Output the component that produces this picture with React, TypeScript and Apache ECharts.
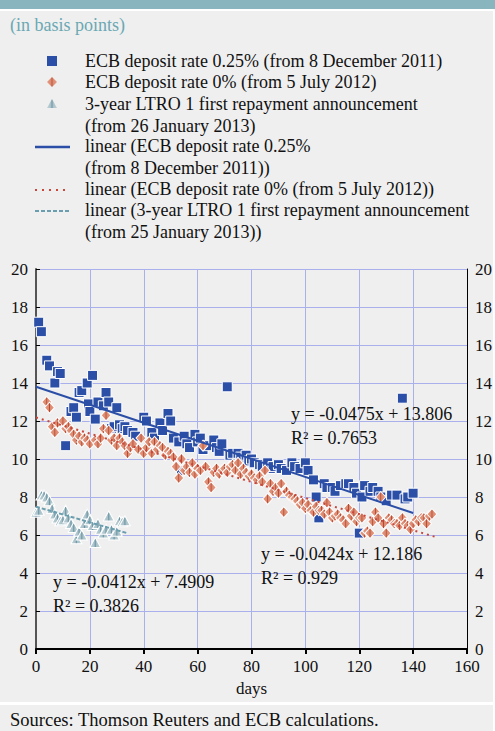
import React, { useEffect, useRef } from "react";
import * as echarts from "echarts";

// ECB deposit rate 0.25% (from 8 December 2011): [day, basis points]
const blueData: [number, number][] = [
  [1, 17.2], [2, 16.7], [4, 15.2], [5, 14.9], [7, 14.0], [8, 14.6], [9, 14.5], [11, 10.7],
  [13, 12.5], [14, 12.7], [15, 12.2], [16, 13.5], [17, 13.6], [19, 14.0], [19.5, 12.9], [20, 12.5],
  [21, 14.4], [22, 12.1], [23, 13.0], [25, 12.8], [26, 13.5], [27, 13.0], [28, 11.6], [29, 11.7],
  [30, 12.7], [31, 11.8], [32, 11.6], [33, 11.7], [34, 11.5], [36, 11.4], [37, 11.2], [40, 12.2],
  [41, 12.0], [43, 11.4], [44, 11.1], [46, 11.9], [47, 11.5], [49, 12.4], [50, 12.0], [51, 11.1],
  [53, 10.9], [54, 9.4], [55, 11.2], [56, 10.8], [57, 10.6], [59, 11.3], [60, 10.9], [61, 11.1],
  [62, 10.5], [64, 10.7], [66, 11.0], [67, 10.6], [68, 10.4], [69, 10.8], [71, 13.8], [72, 10.2],
  [73, 10.3], [75, 10.3], [76, 10.1], [78, 10.2], [79, 9.9], [80, 10.0], [81, 9.8], [83, 9.7],
  [84, 9.6], [86, 9.8], [87, 9.5], [88, 9.6], [90, 9.7], [91, 9.5], [93, 9.4], [95, 9.8],
  [96, 9.6], [98, 9.5], [100, 9.8], [101, 9.4], [103, 8.9], [104, 8.0], [105, 6.9], [107, 8.7],
  [108, 8.5], [110, 8.5], [111, 8.3], [113, 8.6], [115, 8.7], [116, 8.7], [118, 8.5], [119, 8.2],
  [120, 6.1], [121, 8.0], [122, 8.6], [124, 8.3], [125, 8.5], [127, 8.3], [128, 8.0], [130, 7.8],
  [132, 8.1], [134, 8.1], [136, 13.2], [137, 7.9], [138, 8.0], [140, 8.2],
];

// ECB deposit rate 0% (from 5 July 2012)
const redData: [number, number][] = [
  [4, 13.0], [5, 12.7], [6, 11.7], [7, 11.4], [8, 11.9], [10, 12.0], [11, 11.6], [12, 11.7],
  [13, 11.5], [14, 11.3], [15, 11.0], [16, 11.2], [17, 10.9], [18, 11.1], [19, 11.0], [20, 10.8],
  [22, 11.0], [23, 10.8], [24, 11.1], [25, 11.6], [26, 12.3], [27, 11.5], [28, 11.0], [29, 11.1],
  [30, 10.7], [31, 11.1], [32, 10.9], [33, 10.7], [34, 10.3], [35, 10.6], [36, 10.8], [38, 10.5],
  [39, 11.1], [40, 10.3], [41, 10.6], [42, 10.9], [43, 10.3], [44, 10.9], [45, 10.5], [46, 10.7],
  [47, 10.6], [48, 10.2], [49, 10.4], [50, 10.3], [51, 10.1], [52, 9.6], [53, 9.0], [54, 10.0],
  [55, 9.4], [56, 9.6], [57, 9.3], [58, 9.8], [59, 9.2], [60, 9.5], [61, 9.4], [62, 10.7],
  [63, 9.6], [64, 8.8], [65, 8.5], [66, 9.3], [67, 9.5], [68, 9.2], [69, 9.4], [70, 9.5],
  [71, 9.3], [72, 9.6], [73, 9.7], [74, 9.4], [75, 9.8], [76, 9.2], [77, 9.5], [78, 9.3],
  [79, 9.1], [80, 9.2], [81, 9.0], [82, 8.9], [83, 9.1], [84, 8.8], [85, 9.4], [86, 7.9],
  [87, 8.7], [88, 8.3], [89, 8.5], [90, 8.2], [91, 8.7], [92, 7.2], [93, 8.3], [94, 8.1],
  [95, 8.0], [96, 7.9], [97, 7.8], [98, 7.6], [99, 7.7], [100, 7.4], [101, 7.6], [102, 7.3],
  [103, 7.2], [104, 7.5], [105, 7.3], [106, 7.3], [107, 7.1], [108, 7.7], [109, 7.2], [110, 6.9],
  [111, 7.0], [112, 7.1], [113, 6.9], [114, 6.8], [115, 6.6], [116, 7.4], [117, 7.0], [118, 7.2],
  [119, 6.7], [120, 6.9], [121, 6.9], [122, 6.1], [123, 6.2], [124, 6.1], [125, 6.7], [126, 7.2],
  [127, 6.9], [128, 8.0], [129, 6.6], [130, 6.1], [131, 6.9], [132, 6.8], [133, 6.6], [134, 6.6],
  [135, 6.5], [136, 6.9], [137, 6.6], [138, 6.5], [139, 6.3], [140, 6.6], [141, 6.8], [142, 6.7],
  [143, 6.9], [144, 6.9], [145, 6.6], [146, 7.0], [147, 7.1],
];

// 3-year LTRO 1 first repayment announcement (from 26 January 2013)
const tealData: [number, number][] = [
  [0, 7.2], [1, 7.3], [2, 8.1], [3, 8.1], [4, 8.0], [5, 7.8], [6, 7.4], [7, 7.1], [8, 6.9],
  [9, 6.75], [10, 6.8], [11, 7.3], [12, 6.9], [13, 6.6], [14, 6.4], [15, 5.8], [16, 6.2],
  [17, 6.0], [18, 6.6], [19, 7.1], [20, 6.8], [21, 6.5], [22, 5.6], [23, 6.6], [24, 6.3],
  [25, 6.1], [26, 6.3], [27, 7.0], [28, 6.3], [29, 6.0], [30, 6.2], [31, 6.75], [32, 6.7], [33, 6.75],
];

// linear trends: slope, intercept, x range, R²
const trendSlopes = [-0.0475, -0.0424, -0.0412];
const trendIntercepts = [13.806, 12.186, 7.4909];
const trendRanges: [number, number][] = [[0, 140], [0, 148], [0, 34]];
const trendR2 = ["0.7653", "0.929", "0.3826"];

const seriesNames = [
  "ECB deposit rate 0.25% (from 8 December 2011)",
  "ECB deposit rate 0% (from 5 July 2012)",
  "3-year LTRO 1 first repayment announcement\n(from 26 January 2013)",
];
const trendNames = [
  "linear (ECB deposit rate 0.25%\n(from 8 December 2011))",
  "linear (ECB deposit rate 0% (from 5 July 2012))",
  "linear (3-year LTRO 1 first repayment announcement\n(from 25 January 2013))",
];

const xTicks = [0, 160, 20];
const yTicks = [0, 20, 2];

const FONT = "'Liberation Serif', 'Times New Roman', serif";
const BLUE = "#2b4ea6";
const RED_LINE = "#c8463a";
const TEAL_LINE = "#6a9eae";
const GRID = "#aab0ec";

const redFill = {
  type: "linear", x: 0, y: 0, x2: 1, y2: 0,
  colorStops: [
    { offset: 0, color: "#e49a82" }, { offset: 0.42, color: "#dc8a70" },
    { offset: 0.5, color: "#b54630" }, { offset: 0.58, color: "#dc8a70" }, { offset: 1, color: "#e49a82" },
  ],
};
const tealFill = {
  type: "linear", x: 0, y: 0, x2: 1, y2: 0,
  colorStops: [
    { offset: 0, color: "#c0d2d8" }, { offset: 0.4, color: "#a9c1c9" },
    { offset: 0.5, color: "#6c95a3" }, { offset: 0.6, color: "#a9c1c9" }, { offset: 1, color: "#c0d2d8" },
  ],
};

function fmt(n: number) {
  return (n < 0 ? "-" : "") + String(Math.abs(n));
}

export default function App() {
  const ref = useRef<HTMLDivElement>(null);
  useEffect(() => {
    if (!ref.current) return;
    const chart = echarts.init(ref.current, null, { renderer: "svg" });
    const trendColors = [BLUE, RED_LINE, TEAL_LINE];
    const trendDash: any[] = ["solid", [2, 4], [4, 2]];
    const trendSeries = trendSlopes.map((s, i) => ({
      type: "line",
      name: trendNames[i],
      data: trendRanges[i].map((x) => [x, trendIntercepts[i] + s * x]),
      symbol: "none",
      lineStyle: { color: trendColors[i], width: 2, type: trendDash[i] },
      z: 5,
    }));

    const legendTextStyle = { fontFamily: FONT, fontSize: 18, fill: "#111", lineHeight: 21.5 };
    const legendRows = [61, 82, 104, 146, 189, 210];
    const legendText = [...seriesNames, ...trendNames];
    const textX = 85;

    const eqStyle = { fontFamily: FONT, fontSize: 18, fill: "#111" };
    const eqPos: [number, number][] = [[291, 413], [261, 553], [53, 581]];

    const graphic: any[] = [
      { type: "rect", shape: { x: 0, y: 0, width: 495, height: 9 }, style: { fill: "#89b5bf" } },
      { type: "rect", shape: { x: 0, y: 9, width: 495, height: 2 }, style: { fill: "#ffffff" } },
      { type: "rect", shape: { x: 0, y: 702, width: 495, height: 3 }, style: { fill: "#ffffff" } },
      { type: "rect", shape: { x: 493, y: 9, width: 2, height: 722 }, style: { fill: "#ffffff" } },
      {
        type: "text", x: 10, y: 25,
        style: { text: "(in basis points)", fontFamily: FONT, fontSize: 18, fill: "#6aa8b3", verticalAlign: "middle" },
      },
      {
        type: "text", x: 10, y: 720,
        style: { text: "Sources: Thomson Reuters and ECB calculations.", fontFamily: FONT, fontSize: 18.5, fill: "#111", verticalAlign: "middle" },
      },
      // legend markers
      { type: "rect", shape: { x: 47, y: 56, width: 10, height: 10 }, style: { fill: BLUE } },
      { type: "polygon", shape: { points: [[52, 77], [57, 82], [52, 87], [47, 82]] }, style: { fill: redFill } },
      { type: "polygon", shape: { points: [[52, 99], [57, 108], [47, 108]] }, style: { fill: tealFill } },
      { type: "line", shape: { x1: 35, y1: 147, x2: 70, y2: 147 }, style: { stroke: BLUE, lineWidth: 2.5 } },
      { type: "line", shape: { x1: 35, y1: 190, x2: 70, y2: 190 }, style: { stroke: RED_LINE, lineWidth: 2, lineDash: [2, 5] } },
      { type: "line", shape: { x1: 35, y1: 211, x2: 70, y2: 211 }, style: { stroke: TEAL_LINE, lineWidth: 2, lineDash: [4, 2] } },
      ...legendText.map((t, i) => ({
        type: "text", x: textX, y: legendRows[i] - 10.75,
        style: { ...legendTextStyle, text: t, verticalAlign: "top" },
      })),
      ...trendSlopes.map((s, i) => ({
        type: "text", x: eqPos[i][0], y: eqPos[i][1] - 11.5, z: 10,
        style: {
          ...eqStyle, lineHeight: 24, verticalAlign: "top",
          text: `y = ${fmt(s)}x + ${trendIntercepts[i]}\nR² = ${trendR2[i]}`,
        },
      })),
    ];

    const axisLabel = { fontFamily: FONT, fontSize: 17, color: "#111" };
    chart.setOption({
      animation: false,
      backgroundColor: "#efefef",
      grid: { left: 36, right: 28, top: 269, bottom: 82, containLabel: false },
      xAxis: {
        type: "value", min: xTicks[0], max: xTicks[1], interval: xTicks[2],
        name: "days", nameLocation: "middle", nameGap: 27,
        nameTextStyle: { fontFamily: FONT, fontSize: 17, color: "#111" },
        axisLine: { show: true, lineStyle: { color: "#000", width: 2 } },
        axisTick: { show: true, length: 5, lineStyle: { color: "#000", width: 2 } },
        axisLabel: { ...axisLabel, margin: 9 },
        splitLine: { show: true, lineStyle: { color: GRID, width: 1 } },
      },
      yAxis: [
        {
          type: "value", min: yTicks[0], max: yTicks[1], interval: yTicks[2], position: "left",
          axisLine: { show: true, lineStyle: { color: "#555", width: 2 } },
          axisTick: { show: true, inside: true, length: 4, lineStyle: { color: "#000" } },
          axisLabel: { ...axisLabel, margin: 8 },
          splitLine: { show: true, lineStyle: { color: GRID, width: 1 } },
        },
        {
          type: "value", min: yTicks[0], max: yTicks[1], interval: yTicks[2], position: "right",
          axisLine: { show: true, lineStyle: { color: "#000", width: 1 } },
          axisTick: { show: false },
          axisLabel: { ...axisLabel, margin: 8 },
          splitLine: { show: false },
        },
      ],
      series: [
        {
          type: "scatter", name: seriesNames[0], data: blueData, symbol: "rect", symbolSize: 10,
          itemStyle: { color: BLUE, borderColor: "#fff", borderWidth: 1, opacity: 1 }, z: 2,
        },
        {
          type: "scatter", name: seriesNames[1], data: redData, symbol: "diamond", symbolSize: [10, 11],
          itemStyle: { color: redFill, borderColor: "#fff", borderWidth: 1, opacity: 1 }, z: 3,
        },
        {
          type: "scatter", name: seriesNames[2], data: tealData, symbol: "triangle", symbolSize: [11, 10],
          itemStyle: { color: tealFill, borderColor: "#fff", borderWidth: 1, opacity: 1 }, z: 4,
        },
        ...trendSeries,
      ],
      graphic,
    });
    return () => chart.dispose();
  }, []);
  return (
    <div
      ref={ref}
      style={{ position: "absolute", left: 0, top: 0, width: 495, height: 731 }}
    />
  );
}
